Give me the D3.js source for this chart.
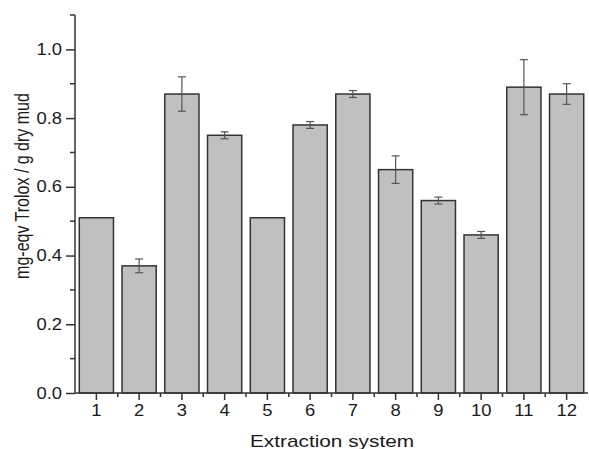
<!DOCTYPE html>
<html>
<head>
<meta charset="utf-8">
<script src="https://cdn.jsdelivr.net/npm/d3@7"></script>
<style>
  body { margin: 0; background: #fff; }
  text { font-family: "Liberation Sans", Arial, sans-serif; fill: #1a1a1a; }
</style>
</head>
<body>
<div id="chart"></div>
<script>
var systems = ["1", "2", "3", "4", "5", "6", "7", "8", "9", "10", "11", "12"];
var values = [0.51, 0.37, 0.87, 0.75, 0.51, 0.78, 0.87, 0.65, 0.56, 0.46, 0.89, 0.87];
var errors = [0, 0.02, 0.05, 0.01, 0, 0.01, 0.01, 0.04, 0.01, 0.01, 0.08, 0.03];
var yTicks = [0, 0.2, 0.4, 0.6, 0.8, 1.0];
var yMinor = [0.1, 0.3, 0.5, 0.7, 0.9, 1.1];

//////////////////////////////////////////////////////////////////////////////

var width = 589, height = 449;
var margin = {left: 75, right: 1, top: 15, bottom: 56};

var svg = d3.select("#chart").append("svg")
    .attr("width", width)
    .attr("height", height);

var x = d3.scaleBand()
    .domain(systems)
    .range([margin.left, width - margin.right])
    .paddingInner(0.2)
    .paddingOuter(0.1);

var y = d3.scaleLinear()
    .domain([0, 1.1])
    .range([height - margin.bottom, margin.top]);

var data = systems.map(function(s, i){ return {sys: s, v: values[i], e: errors[i]}; });

// bars
svg.selectAll("rect.bar")
    .data(data)
    .enter().append("rect")
    .attr("class", "bar")
    .attr("x", function(d){ return x(d.sys); })
    .attr("y", function(d){ return y(d.v); })
    .attr("width", x.bandwidth())
    .attr("height", function(d){ return y(0) - y(d.v); })
    .style("fill", "#c0c0c0")
    .style("stroke", "#333")
    .style("stroke-width", 1.5);

// error bars
var err = svg.selectAll("g.err")
    .data(data.filter(function(d){ return d.e > 0; }))
    .enter().append("g")
    .attr("class", "err");

err.append("line")
    .attr("x1", function(d){ return x(d.sys) + x.bandwidth() / 2; })
    .attr("x2", function(d){ return x(d.sys) + x.bandwidth() / 2; })
    .attr("y1", function(d){ return y(d.v + d.e); })
    .attr("y2", function(d){ return y(d.v - d.e); });

[1, -1].forEach(function(sign){
  err.append("line")
      .attr("x1", function(d){ return x(d.sys) + x.bandwidth() / 2 - 4; })
      .attr("x2", function(d){ return x(d.sys) + x.bandwidth() / 2 + 4; })
      .attr("y1", function(d){ return y(d.v + sign * d.e); })
      .attr("y2", function(d){ return y(d.v + sign * d.e); });
});

err.selectAll("line").style("stroke", "#555").style("stroke-width", 1.2);

// y axis
var yAxis = d3.axisLeft(y).tickValues(yTicks).tickFormat(d3.format(".1f")).tickSize(9).tickPadding(4);
var gy = svg.append("g")
    .attr("transform", "translate(" + margin.left + ",0)")
    .call(yAxis);
gy.select(".domain").remove();
gy.selectAll("text")
    .attr("x", 0)
    .attr("transform", "translate(-13,0) scale(1.15,1)")
    .style("font-size", "16px");

var gyMinor = svg.append("g")
    .attr("transform", "translate(" + margin.left + ",0)");
gyMinor.selectAll("line")
    .data(yMinor)
    .enter().append("line")
    .attr("x1", -5).attr("x2", 0)
    .attr("y1", function(d){ return y(d); })
    .attr("y2", function(d){ return y(d); });

var yLine = svg.append("line")
    .attr("x1", margin.left).attr("x2", margin.left)
    .attr("y1", y(1.1)).attr("y2", y(0));

// x axis
var xAxis = d3.axisBottom(x).tickSize(7).tickPadding(5).tickSizeOuter(0);
var gx = svg.append("g")
    .attr("transform", "translate(0," + y(0) + ")")
    .call(xAxis);
gx.select(".domain").remove();
gx.selectAll("text")
    .attr("transform", "scale(1.15,1)")
    .style("font-size", "16px");

var bounds = systems.slice(1).map(function(s){ return x(s) - x.step() * x.paddingInner() / 2; });
var gxMinor = svg.append("g")
    .attr("transform", "translate(0," + y(0) + ")");
gxMinor.selectAll("line")
    .data(bounds)
    .enter().append("line")
    .attr("x1", function(d){ return d; })
    .attr("x2", function(d){ return d; })
    .attr("y1", 0).attr("y2", 4);

var xLine = svg.append("line")
    .attr("x1", margin.left).attr("x2", width - margin.right)
    .attr("y1", y(0)).attr("y2", y(0));

[gy.selectAll(".tick line"), gx.selectAll(".tick line"), gyMinor.selectAll("line"), gxMinor.selectAll("line"), yLine, xLine]
  .forEach(function(sel){ sel.style("stroke", "#333").style("stroke-width", 1.5); });

// axis titles
svg.append("text")
    .attr("transform", "translate(332,447) scale(1.3,1)")
    .attr("text-anchor", "middle")
    .style("font-size", "16px")
    .text("Extraction system");

svg.append("text")
    .attr("transform", "translate(29,186) scale(1.3,1) rotate(-90)")
    .attr("text-anchor", "middle")
    .style("font-size", "16px")
    .text("mg-eqv Trolox / g dry mud");
</script>
</body>
</html>
